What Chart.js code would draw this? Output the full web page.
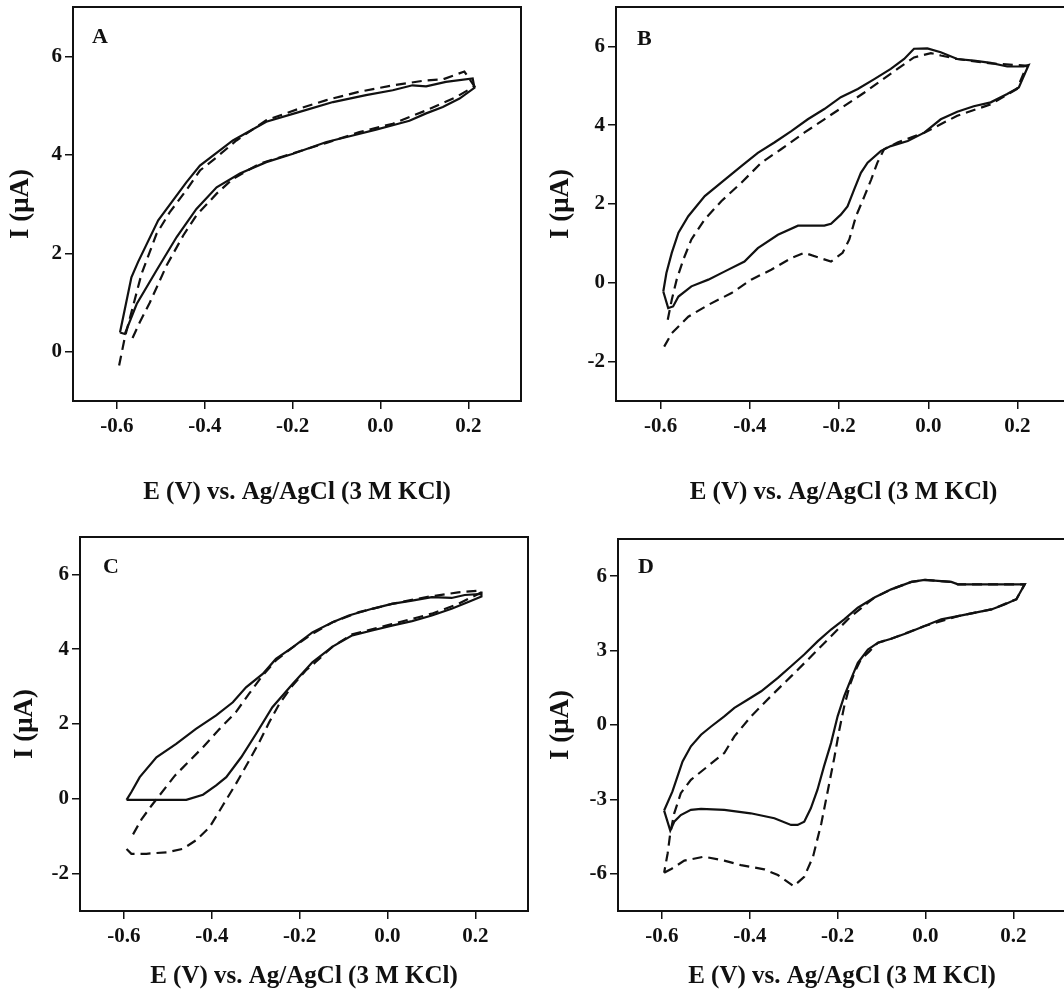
<!DOCTYPE html>
<html>
<head>
<meta charset="utf-8">
<script src="https://cdn.jsdelivr.net/npm/chart.js@4/dist/chart.umd.min.js"></script>
<style>
  html, body { margin: 0; padding: 0; background: #fff; }
  body { width: 1064px; height: 993px; overflow: hidden; position: relative; }
  canvas { position: absolute; }
</style>
</head>
<body>
<canvas id="chartA" width="530" height="530" style="left:0px;top:-20px"></canvas>
<canvas id="chartB" width="540" height="530" style="left:540px;top:-20px"></canvas>
<canvas id="chartC" width="540" height="493" style="left:0px;top:500px"></canvas>
<canvas id="chartD" width="540" height="493" style="left:540px;top:500px"></canvas>
<script>
// tick labels
const xTicks = [-0.6, -0.4, -0.2, 0.0, 0.2];
const yTicksABC = [-2, 0, 2, 4, 6];
const yTicksD = [-6, -3, 0, 3, 6];

// panel A
const aSolidE = [-0.593,-0.567,-0.552,-0.506,-0.442,-0.411,-0.336,-0.260,-0.184,-0.108,-0.033,0.028,0.073,0.104,0.149,0.210,0.214,0.180,0.142,0.104,0.066,0.028,-0.010,-0.063,-0.123,-0.199,-0.260,-0.320,-0.373,-0.419,-0.464,-0.510,-0.555,-0.582,-0.593];
const aSolidI = [0.39,1.51,1.82,2.67,3.44,3.78,4.29,4.67,4.87,5.07,5.21,5.31,5.41,5.39,5.48,5.55,5.36,5.14,4.97,4.84,4.69,4.60,4.51,4.39,4.26,4.02,3.85,3.62,3.34,2.90,2.33,1.65,0.97,0.36,0.39];
const aDashE = [-0.595,-0.582,-0.567,-0.544,-0.510,-0.480,-0.442,-0.411,-0.373,-0.328,-0.260,-0.184,-0.123,-0.048,0.028,0.104,0.142,0.191,0.214,0.172,0.104,0.028,-0.048,-0.123,-0.199,-0.275,-0.336,-0.373,-0.419,-0.449,-0.487,-0.525,-0.548,-0.569];
const aDashI = [-0.28,0.29,0.80,1.58,2.39,2.83,3.28,3.68,3.95,4.29,4.70,4.94,5.11,5.28,5.41,5.51,5.53,5.69,5.39,5.17,4.90,4.63,4.46,4.24,4.03,3.82,3.51,3.21,2.77,2.36,1.75,1.00,0.60,0.19];

// panel B
const bSolidE = [-0.594,-0.587,-0.575,-0.560,-0.538,-0.501,-0.456,-0.419,-0.382,-0.345,-0.307,-0.270,-0.233,-0.196,-0.158,-0.121,-0.084,-0.054,-0.032,-0.002,0.028,0.065,0.102,0.140,0.177,0.214,0.225,0.203,0.177,0.140,0.102,0.065,0.028,-0.009,-0.046,-0.084,-0.106,-0.136,-0.151,-0.166,-0.181,-0.196,-0.218,-0.233,-0.292,-0.337,-0.382,-0.412,-0.456,-0.493,-0.531,-0.560,-0.572,-0.583,-0.594];
const bSolidI = [-0.22,0.25,0.76,1.27,1.69,2.20,2.62,2.96,3.30,3.56,3.85,4.15,4.41,4.71,4.92,5.17,5.43,5.68,5.94,5.95,5.85,5.68,5.64,5.58,5.49,5.49,5.53,4.96,4.79,4.58,4.48,4.34,4.15,3.81,3.60,3.47,3.35,3.05,2.79,2.37,1.94,1.73,1.50,1.45,1.45,1.22,0.88,0.54,0.29,0.08,-0.09,-0.35,-0.60,-0.64,-0.22];
const bDashE = [-0.584,-0.575,-0.564,-0.549,-0.531,-0.501,-0.464,-0.419,-0.374,-0.330,-0.278,-0.233,-0.188,-0.143,-0.106,-0.069,-0.032,0.006,0.028,0.065,0.140,0.221,0.199,0.140,0.065,-0.009,-0.069,-0.099,-0.114,-0.128,-0.143,-0.162,-0.177,-0.192,-0.218,-0.278,-0.307,-0.352,-0.397,-0.441,-0.493,-0.538,-0.575,-0.592];
const bDashI = [-0.94,-0.43,0.08,0.59,1.10,1.61,2.07,2.54,3.05,3.39,3.81,4.15,4.49,4.83,5.13,5.43,5.72,5.83,5.77,5.68,5.57,5.51,4.92,4.53,4.24,3.81,3.56,3.39,3.05,2.62,2.20,1.69,1.10,0.76,0.54,0.76,0.63,0.33,0.08,-0.26,-0.56,-0.86,-1.28,-1.62];

// panel C
const cSolidE = [-0.594,-0.583,-0.564,-0.526,-0.481,-0.436,-0.390,-0.352,-0.322,-0.284,-0.254,-0.216,-0.171,-0.125,-0.088,-0.035,0.010,0.056,0.101,0.146,0.176,0.214,0.214,0.184,0.146,0.101,0.056,0.010,-0.035,-0.080,-0.125,-0.171,-0.216,-0.262,-0.299,-0.333,-0.367,-0.390,-0.420,-0.458,-0.579,-0.594];
const cSolidI = [-0.03,0.18,0.58,1.11,1.47,1.87,2.23,2.58,2.98,3.34,3.74,4.05,4.45,4.72,4.90,5.08,5.21,5.30,5.39,5.37,5.45,5.48,5.41,5.26,5.08,4.90,4.75,4.63,4.50,4.37,4.07,3.65,3.07,2.45,1.74,1.11,0.58,0.36,0.11,-0.03,-0.03,-0.03];
const cDashE = [-0.594,-0.583,-0.549,-0.503,-0.466,-0.436,-0.405,-0.375,-0.345,-0.315,-0.292,-0.269,-0.246,-0.216,-0.186,-0.164,-0.125,-0.080,0.010,0.101,0.161,0.214,0.214,0.161,0.086,0.010,-0.065,-0.125,-0.171,-0.216,-0.254,-0.284,-0.315,-0.345,-0.382,-0.420,-0.452,-0.484,-0.537,-0.560,-0.583];
const cDashI = [-1.34,-1.47,-1.47,-1.43,-1.34,-1.11,-0.76,-0.18,0.40,1.02,1.51,2.05,2.54,3.03,3.43,3.65,4.07,4.40,4.67,4.95,5.21,5.52,5.57,5.52,5.39,5.21,4.99,4.72,4.41,4.05,3.70,3.30,2.81,2.32,1.87,1.38,1.00,0.62,-0.18,-0.55,-1.03];

// panel D
const dSolidE = [-0.595,-0.576,-0.553,-0.534,-0.511,-0.488,-0.458,-0.435,-0.405,-0.374,-0.336,-0.306,-0.276,-0.245,-0.215,-0.185,-0.154,-0.116,-0.078,-0.032,-0.002,0.059,0.074,0.226,0.207,0.180,0.150,0.074,0.036,-0.002,-0.040,-0.078,-0.108,-0.131,-0.154,-0.170,-0.185,-0.200,-0.215,-0.231,-0.246,-0.261,-0.276,-0.291,-0.306,-0.344,-0.398,-0.458,-0.511,-0.534,-0.557,-0.572,-0.581,-0.595];
const dSolidI = [-3.45,-2.68,-1.47,-0.86,-0.39,-0.06,0.35,0.69,1.02,1.36,1.90,2.37,2.84,3.38,3.85,4.26,4.73,5.14,5.47,5.77,5.85,5.77,5.67,5.67,5.07,4.86,4.66,4.39,4.26,3.99,3.72,3.48,3.32,3.04,2.51,1.83,1.16,0.35,-0.73,-1.67,-2.62,-3.36,-3.90,-4.03,-4.03,-3.76,-3.56,-3.42,-3.38,-3.42,-3.63,-3.90,-4.26,-3.45];
const dDashE = [-0.595,-0.580,-0.549,-0.504,-0.458,-0.420,-0.367,-0.336,-0.300,-0.276,-0.256,-0.237,-0.222,-0.207,-0.196,-0.185,-0.173,-0.162,-0.147,-0.127,-0.108,-0.078,-0.002,0.074,0.150,0.207,0.226,0.074,0.059,-0.002,-0.032,-0.078,-0.116,-0.131,-0.169,-0.215,-0.260,-0.306,-0.352,-0.397,-0.435,-0.458,-0.496,-0.534,-0.557,-0.572,-0.581,-0.587,-0.595];
const dDashI = [-5.96,-5.82,-5.47,-5.31,-5.47,-5.65,-5.82,-6.05,-6.50,-6.12,-5.31,-3.96,-2.62,-1.27,-0.19,0.75,1.56,2.10,2.64,2.98,3.32,3.48,3.99,4.39,4.66,5.07,5.67,5.67,5.77,5.85,5.77,5.47,5.14,4.93,4.39,3.58,2.77,1.96,1.16,0.35,-0.46,-1.13,-1.67,-2.21,-2.75,-3.56,-4.37,-5.18,-5.96];

const serif = "'Liberation Serif', 'Times New Roman', serif";
const ink = '#111';

function zip(xs, ys) {
    return xs.map((x, i) => ({ x: x, y: ys[i] }));
}

// box around the plot area + the panel letter
const framePlugin = {
    id: 'frame',
    afterDatasetsDraw(chart, args, opts) {
        const a = chart.chartArea;
        const ctx = chart.ctx;
        ctx.save();
        ctx.strokeStyle = ink;
        ctx.lineWidth = 2;
        ctx.strokeRect(a.left, a.top, a.right - a.left, a.bottom - a.top);
        ctx.fillStyle = ink;
        ctx.font = 'bold 22px ' + serif;
        ctx.textBaseline = 'alphabetic';
        ctx.fillText(opts.letter, a.left + opts.dx, a.top + opts.dy);
        ctx.restore();
    }
};

function makePanel(p) {
    const ctx = document.getElementById(p.id);
    return new Chart(ctx, {
        type: 'scatter',
        data: {
            datasets: [
                {
                    label: 'solid',
                    data: zip(p.solidE, p.solidI),
                    showLine: true,
                    borderColor: ink,
                    borderWidth: 2.2,
                    pointRadius: 0,
                    tension: 0,
                },
                {
                    label: 'dashed',
                    data: zip(p.dashE, p.dashI),
                    showLine: true,
                    borderColor: ink,
                    borderWidth: 2.2,
                    borderDash: [10, 6],
                    pointRadius: 0,
                    tension: 0,
                }
            ]
        },
        options: {
            responsive: false,
            animation: false,
            layout: { padding: { left: 0, top: p.padTop, right: p.padRight, bottom: 0 } },
            plugins: {
                legend: { display: false },
                tooltip: { enabled: false },
                frame: { letter: p.letter, dx: p.letterDx, dy: p.letterDy },
            },
            scales: {
                x: {
                    type: 'linear',
                    min: -0.7,
                    max: p.xMax,
                    afterBuildTicks: s => { s.ticks = xTicks.map(v => ({ value: v })); },
                    afterFit: s => { s.height = p.xHeight; },
                    border: { display: false },
                    grid: { drawOnChartArea: false, drawTicks: true, tickLength: 8, color: ink, lineWidth: 1.5 },
                    ticks: {
                        color: ink,
                        padding: 5,
                        maxRotation: 0,
                        font: { family: serif, size: 21, weight: 'bold' },
                        callback: v => Number(v).toFixed(1),
                    },
                    title: {
                        display: true,
                        text: 'E (V) vs. Ag/AgCl (3 M KCl)',
                        color: ink,
                        font: { family: serif, size: 25, weight: 'bold' },
                        padding: { top: 0, bottom: p.xTitlePad },
                    },
                },
                y: {
                    type: 'linear',
                    min: p.yMin,
                    max: p.yMax,
                    afterBuildTicks: s => { s.ticks = p.yTicks.filter(v => v >= p.yMin && v <= p.yMax).map(v => ({ value: v })); },
                    afterFit: s => { s.width = p.yWidth; },
                    border: { display: false },
                    grid: { drawOnChartArea: false, drawTicks: true, tickLength: 8, color: ink, lineWidth: 1.5 },
                    ticks: {
                        color: ink,
                        padding: 3,
                        font: { family: serif, size: 21, weight: 'bold' },
                        callback: v => String(v),
                    },
                    title: {
                        display: true,
                        text: 'I (\u03bcA)',
                        color: ink,
                        font: { family: serif, size: 27, weight: 'bold' },
                        padding: { top: p.yTitlePad, bottom: 0 },
                    },
                },
            },
        },
        plugins: [framePlugin],
    });
}

makePanel({ id: 'chartA', solidE: aSolidE, solidI: aSolidI, dashE: aDashE, dashI: aDashI,
    yMin: -1, yMax: 7, yTicks: yTicksABC, xMax: 0.32, letter: 'A', letterDx: 19, letterDy: 36,
    yWidth: 73, padTop: 27, padRight: 9, xHeight: 109, xTitlePad: 2, yTitlePad: 5 });
makePanel({ id: 'chartB', solidE: bSolidE, solidI: bSolidI, dashE: bDashE, dashI: bDashI,
    yMin: -3, yMax: 7, yTicks: yTicksABC, xMax: 0.32, letter: 'B', letterDx: 21, letterDy: 38,
    yWidth: 76, padTop: 27, padRight: 9, xHeight: 109, xTitlePad: 2, yTitlePad: 5 });
makePanel({ id: 'chartC', solidE: cSolidE, solidI: cSolidI, dashE: cDashE, dashI: cDashI,
    yMin: -3, yMax: 7, yTicks: yTicksABC, xMax: 0.32, letter: 'C', letterDx: 23, letterDy: 36,
    yWidth: 80, padTop: 37, padRight: 12, xHeight: 82, xTitlePad: 1, yTitlePad: 9 });
makePanel({ id: 'chartD', solidE: dSolidE, solidI: dSolidI, dashE: dDashE, dashI: dDashI,
    yMin: -7.5, yMax: 7.5, yTicks: yTicksD, xMax: 0.32, letter: 'D', letterDx: 20, letterDy: 34,
    yWidth: 78, padTop: 39, padRight: 14, xHeight: 82, xTitlePad: 1, yTitlePad: 5 });
</script>
</body>
</html>
